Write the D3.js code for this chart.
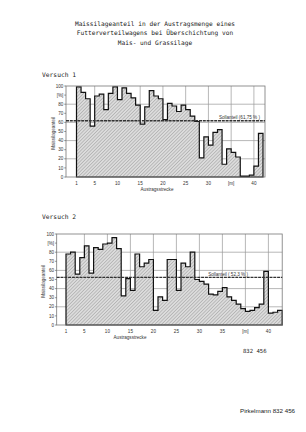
<!DOCTYPE html>
<html>
<head>
<meta charset="utf-8">
<script src="https://cdn.jsdelivr.net/npm/d3@7"></script>
<style>
  body { margin: 0; background: #fff; }
  svg { display: block; }
  .mono { font-family: "DejaVu Sans Mono", "Liberation Mono", monospace; fill: #222; }
  .tick-text { font-family: "Liberation Sans", Arial, sans-serif; font-size: 4.6px; fill: #333; }
</style>
</head>
<body>
<svg id="chart" width="306" height="432"></svg>
<script>
// Maissilageanteil [%] per metre of Austragsstrecke
const versuch1Values = [99, 93, 86, 56, 89, 91, 74, 92, 99, 85,
  98, 92, 87, 79, 58, 77, 95, 89, 86, 63,
  81, 78, 72, 79, 74, 67, 61, 21, 44, 35,
  49, 52, 14, 31, 27, 22, 1, 1, 2, 12, 48];
const versuch2Values = [78, 80, 56, 74, 87, 57, 85, 83, 89, 90,
  96, 84, 32, 51, 38, 78, 64, 68, 72, 16,
  31, 27, 72, 72, 38, 68, 64, 80, 50, 48,
  45, 34, 33, 37, 41, 31, 27, 23, 18, 15,
  16, 19, 23, 59, 13, 14, 16];
const sollanteil1 = 61.75;
const sollanteil2 = 52.3;
const xTicks1 = [1, 5, 10, 15, 20, 25, 30, 35, 40];
const xTickLabels1 = ['1', '5', '10', '15', '20', '25', '30', '[m]', '40'];
const xTicks2 = [1, 5, 10, 15, 20, 25, 30, 35, 40, 45];
const xTickLabels2 = ['1', '5', '10', '15', '20', '25', '30', '35', '[m]', '40'];
const yTicks = [0, 10, 20, 30, 40, 50, 60, 70, 80, 90, 100];
const yTickLabels = ['0', '10', '20', '30', '40', '50', '60', '70', '80', '[%]', '100'];
const yGrid = [20, 40, 60, 80];
const titleLines = ['Maissilageanteil in der Austragsmenge eines',
  'Futterverteilwagens bei Überschichtung von',
  'Mais- und Grassilage'];

var svg = d3.select('#chart');

var defs = svg.append('defs');
var pat = defs.append('pattern')
  .attr('id', 'hatch')
  .attr('patternUnits', 'userSpaceOnUse')
  .attr('width', 2.4)
  .attr('height', 2.4)
  .attr('patternTransform', 'rotate(45)');
pat.append('rect').attr('width', 2.4).attr('height', 2.4).attr('fill', '#dcdcdc');
pat.append('line')
  .attr('x1', 0).attr('y1', 0).attr('x2', 0).attr('y2', 2.4)
  .attr('stroke', '#8a8a8a').attr('stroke-width', 0.8);

// heading
svg.append('g').selectAll('text')
  .data(titleLines)
  .enter()
  .append('text')
  .attr('class', 'mono')
  .attr('x', 155)
  .attr('y', function (d, i) { return 26 + i * 9.3; })
  .attr('text-anchor', 'middle')
  .attr('font-size', 6.2)
  .text(function (d) { return d; });

function drawChart(opt) {
  var g = svg.append('g');
  var x = d3.scaleLinear().domain([1, opt.values.length + 1]).range(opt.xRange);
  var y = d3.scaleLinear().domain([0, 100]).range(opt.yRange);

  g.append('text')
    .attr('class', 'mono')
    .attr('x', opt.labelPos[0])
    .attr('y', opt.labelPos[1])
    .attr('font-size', 6.3)
    .text(opt.name);

  // grid
  g.append('g').selectAll('line')
    .data(yGrid)
    .enter()
    .append('line')
    .attr('x1', opt.frame[0]).attr('x2', opt.frame[1])
    .attr('y1', function (d) { return y(d); })
    .attr('y2', function (d) { return y(d); })
    .attr('stroke', '#9a9a9a').attr('stroke-width', 0.7);

  g.append('g').selectAll('line')
    .data(opt.xTicks.slice(1))
    .enter()
    .append('line')
    .attr('x1', function (d) { return x(d); })
    .attr('x2', function (d) { return x(d); })
    .attr('y1', y(100)).attr('y2', y(0))
    .attr('stroke', '#9a9a9a').attr('stroke-width', 0.7);

  // step area
  var pts = opt.values.map(function (v, i) { return [i + 1, v]; });
  pts.push([opt.values.length + 1, opt.values[opt.values.length - 1]]);
  var area = d3.area()
    .curve(d3.curveStepAfter)
    .x(function (d) { return x(d[0]); })
    .y0(y(0))
    .y1(function (d) { return y(d[1]); });
  g.append('path')
    .datum(pts)
    .attr('d', area)
    .attr('fill', 'url(#hatch)')
    .attr('stroke', '#111')
    .attr('stroke-width', 1.2)
    .attr('stroke-linejoin', 'miter');

  // frame
  g.append('rect')
    .attr('x', opt.frame[0])
    .attr('y', y(100))
    .attr('width', opt.frame[1] - opt.frame[0])
    .attr('height', y(0) - y(100))
    .attr('fill', 'none')
    .attr('stroke', '#777')
    .attr('stroke-width', 0.8);

  // Sollanteil line
  g.append('line')
    .attr('x1', opt.frame[0]).attr('x2', opt.frame[1])
    .attr('y1', y(opt.soll)).attr('y2', y(opt.soll))
    .attr('stroke', '#333').attr('stroke-width', 1.4)
    .attr('stroke-dasharray', '3,0.8');
  g.append('text')
    .attr('class', 'tick-text')
    .attr('x', x(opt.sollLabelX))
    .attr('y', y(opt.soll) - 1.8)
    .attr('font-size', 5)
    .text(opt.sollLabel);

  // y ticks
  var yt = g.append('g').selectAll('g')
    .data(yTicks)
    .enter()
    .append('g');
  yt.append('line')
    .attr('x1', opt.frame[0] - 1.8).attr('x2', opt.frame[0])
    .attr('y1', function (d) { return y(d); })
    .attr('y2', function (d) { return y(d); })
    .attr('stroke', '#555').attr('stroke-width', 0.6);
  yt.append('text')
    .attr('class', 'tick-text')
    .attr('x', opt.frame[0] - 2.6)
    .attr('y', function (d) { return y(d) + 1.6; })
    .attr('text-anchor', 'end')
    .text(function (d, i) { return yTickLabels[i]; })
    .attr('font-size', function (d, i) { return yTickLabels[i] === '[%]' ? 6.5 : 4.6; });

  // x ticks
  g.append('g').selectAll('text')
    .data(opt.xTicks)
    .enter()
    .append('text')
    .attr('class', 'tick-text')
    .attr('x', function (d) { return x(d); })
    .attr('y', y(0) + 7.5)
    .attr('text-anchor', 'middle')
    .text(function (d, i) { return opt.xTickLabels[i]; });

  g.append('text')
    .attr('class', 'tick-text')
    .attr('x', opt.xTitleX)
    .attr('y', y(0) + 13.5)
    .attr('text-anchor', 'middle')
    .attr('font-size', 5)
    .text('Austragsstrecke');

  g.append('text')
    .attr('class', 'tick-text')
    .attr('transform', 'translate(' + opt.yTitleX + ',' + (y(50) + 2) + ') rotate(-90)')
    .attr('text-anchor', 'middle')
    .attr('font-size', 4.8)
    .text('Maissilageanteil');
}

drawChart({
  name: 'Versuch 1',
  labelPos: [42, 77],
  values: versuch1Values,
  xRange: [76.5, 263],
  yRange: [177, 86],
  frame: [66, 265],
  xTicks: xTicks1,
  xTickLabels: xTickLabels1,
  soll: sollanteil1,
  sollLabel: 'Sollanteil (61,75 % )',
  sollLabelX: 32.3,
  xTitleX: 157,
  yTitleX: 55
});

drawChart({
  name: 'Versuch 2',
  labelPos: [42, 219],
  values: versuch2Values,
  xRange: [66, 282.2],
  yRange: [325, 234],
  frame: [56.7, 282.2],
  xTicks: xTicks2,
  xTickLabels: xTickLabels2,
  soll: sollanteil2,
  sollLabel: 'Sollanteil ( 52,3 % )',
  sollLabelX: 31.9,
  xTitleX: 130,
  yTitleX: 45
});

svg.append('text')
  .attr('class', 'mono')
  .attr('x', 243)
  .attr('y', 353)
  .attr('font-size', 5.6)
  .text('832 456');

svg.append('text')
  .attr('x', 240)
  .attr('y', 413)
  .attr('font-family', 'Liberation Sans, Arial, sans-serif')
  .attr('font-size', 6.2)
  .attr('fill', '#222')
  .text('Pirkelmann 832 456');
</script>
</body>
</html>
